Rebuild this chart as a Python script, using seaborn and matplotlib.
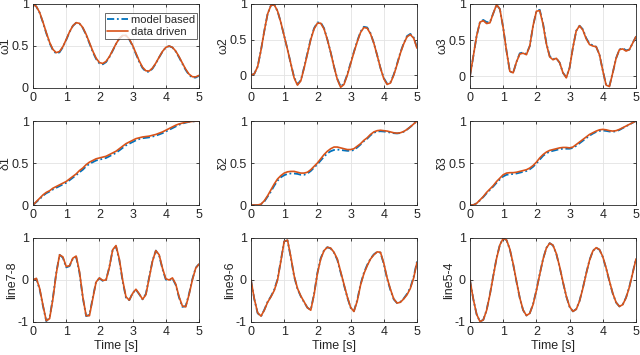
import matplotlib
matplotlib.use('Agg')
import matplotlib.pyplot as plt
import numpy as np
import pandas as pd
import seaborn as sns

# time grid (s)
t = [round(0.1 * i, 1) for i in range(51)]

# --- data driven ---
w1_dd = [1.0, 0.97, 0.9, 0.785, 0.66, 0.544, 0.459, 0.421, 0.435, 0.492,
         0.577, 0.668, 0.741, 0.778, 0.769, 0.72, 0.639, 0.54, 0.44, 0.356,
         0.303, 0.292, 0.316, 0.373, 0.448, 0.526, 0.59, 0.625, 0.627, 0.583,
         0.508, 0.415, 0.322, 0.247, 0.205, 0.202, 0.238, 0.297, 0.368, 0.435,
         0.483, 0.5, 0.484, 0.439, 0.372, 0.296, 0.223, 0.165, 0.134, 0.132,
         0.15]
w2_dd = [0.0, 0.02, 0.12, 0.35, 0.62, 0.86, 0.98, 0.99, 0.9, 0.74,
         0.55, 0.36, 0.16, -0.04, -0.14, -0.08, 0.1, 0.3, 0.5, 0.65,
         0.73, 0.73, 0.65, 0.5, 0.32, 0.12, -0.06, -0.17, -0.13, 0.0,
         0.16, 0.32, 0.47, 0.6, 0.67, 0.66, 0.58, 0.45, 0.28, 0.1,
         -0.05, -0.13, -0.11, 0.0, 0.15, 0.31, 0.44, 0.54, 0.57, 0.52,
         0.38]
w3_dd = [0.0, 0.28, 0.56, 0.75, 0.77, 0.73, 0.74, 0.87, 0.99, 0.93,
         0.67, 0.35, 0.07, 0.05, 0.2, 0.31, 0.32, 0.3, 0.42, 0.7,
         0.9, 0.91, 0.72, 0.45, 0.27, 0.23, 0.25, 0.19, 0.05, -0.02,
         0.12, 0.4, 0.63, 0.7, 0.64, 0.52, 0.44, 0.42, 0.41, 0.3,
         0.08, -0.12, -0.14, 0.05, 0.25, 0.37, 0.38, 0.35, 0.37, 0.46,
         0.55]
d1_dd = [0.0, 0.04, 0.08, 0.12, 0.15, 0.17, 0.2, 0.22, 0.24, 0.26,
         0.28, 0.31, 0.34, 0.37, 0.41, 0.44, 0.48, 0.51, 0.53, 0.55,
         0.56, 0.57, 0.58, 0.6, 0.62, 0.64, 0.67, 0.7, 0.73, 0.75,
         0.77, 0.79, 0.8, 0.81, 0.815, 0.82, 0.83, 0.84, 0.855, 0.87,
         0.89, 0.91, 0.93, 0.95, 0.965, 0.975, 0.985, 0.99, 0.995, 0.998,
         1.0]
d2_dd = [0.0, 0.0, 0.0, 0.01, 0.05, 0.11, 0.18, 0.25, 0.31, 0.35,
         0.38, 0.395, 0.4, 0.4, 0.39, 0.38, 0.38, 0.39, 0.42, 0.46,
         0.5, 0.55, 0.6, 0.64, 0.67, 0.69, 0.69, 0.68, 0.67, 0.66,
         0.66, 0.67, 0.7, 0.73, 0.77, 0.8, 0.84, 0.87, 0.885, 0.89,
         0.885, 0.88, 0.87, 0.86, 0.855, 0.86, 0.875, 0.9, 0.93, 0.965,
         1.0]
d3_dd = [0.0, 0.0, 0.02, 0.06, 0.1, 0.15, 0.19, 0.23, 0.28, 0.32,
         0.36, 0.38, 0.385, 0.385, 0.39, 0.4, 0.41, 0.42, 0.44, 0.47,
         0.51, 0.56, 0.6, 0.63, 0.65, 0.66, 0.67, 0.68, 0.685, 0.685,
         0.68, 0.69, 0.72, 0.75, 0.78, 0.81, 0.84, 0.86, 0.88, 0.895,
         0.9, 0.895, 0.885, 0.88, 0.885, 0.9, 0.92, 0.94, 0.96, 0.98,
         1.0]
l78_dd = [0.0, 0.04, -0.2, -0.6, -0.97, -0.92, -0.45, 0.15, 0.6, 0.55,
          0.32, 0.34, 0.52, 0.57, 0.2, -0.4, -0.85, -0.85, -0.45, -0.05,
          0.05, -0.01, 0.0, 0.3, 0.72, 0.82, 0.5, 0.0, -0.4, -0.48,
          -0.32, -0.22, -0.33, -0.46, -0.35, 0.05, 0.45, 0.7, 0.6, 0.28,
          0.03, 0.0, 0.05, -0.1, -0.4, -0.62, -0.64, -0.35, 0.0, 0.28,
          0.38]
l96_dd = [0.0, -0.45, -0.78, -0.86, -0.72, -0.53, -0.4, -0.25, 0.0, 0.45,
          0.92, 0.95, 0.55, 0.1, -0.2, -0.38, -0.52, -0.66, -0.72, -0.35,
          0.15, 0.5, 0.7, 0.78, 0.76, 0.66, 0.5, 0.2, -0.1, -0.4,
          -0.65, -0.75, -0.5, -0.12, 0.15, 0.34, 0.5, 0.6, 0.67, 0.66,
          0.4, 0.05, -0.22, -0.45, -0.55, -0.53, -0.45, -0.35, -0.2, 0.05,
          0.42]
l54_dd = [0.0, -0.458, -0.815, -0.99, -0.951, -0.723, -0.35, 0.089, 0.513, 0.835,
          0.991, 0.954, 0.736, 0.385, -0.03, -0.424, -0.716, -0.846, -0.795, -0.583,
          -0.252, 0.131, 0.492, 0.759, 0.877, 0.828, 0.628, 0.317, -0.044, -0.384,
          -0.636, -0.747, -0.698, -0.502, -0.197, 0.15, 0.468, 0.69, 0.77, 0.725,
          0.554, 0.286, -0.024, -0.316, -0.532, -0.63, -0.587, -0.425, -0.17, 0.16,
          0.5]

# --- model based ---
w1_mb = [1.0, 0.97, 0.895, 0.78, 0.652, 0.535, 0.45, 0.41, 0.425, 0.486,
         0.572, 0.665, 0.739, 0.776, 0.766, 0.715, 0.632, 0.532, 0.43, 0.346,
         0.293, 0.282, 0.308, 0.367, 0.444, 0.523, 0.588, 0.624, 0.625, 0.578,
         0.5, 0.405, 0.312, 0.237, 0.195, 0.193, 0.231, 0.292, 0.365, 0.433,
         0.482, 0.499, 0.482, 0.434, 0.365, 0.288, 0.214, 0.156, 0.125, 0.124,
         0.145]
w2_mb = [0.0, 0.02, 0.12, 0.35, 0.62, 0.86, 0.98, 0.99, 0.9, 0.74,
         0.55, 0.36, 0.16, -0.03, -0.13, -0.07, 0.11, 0.31, 0.51, 0.66,
         0.74, 0.74, 0.66, 0.5, 0.32, 0.12, -0.05, -0.16, -0.12, 0.01,
         0.17, 0.33, 0.48, 0.61, 0.68, 0.67, 0.59, 0.45, 0.28, 0.1,
         -0.04, -0.12, -0.1, 0.01, 0.16, 0.32, 0.45, 0.55, 0.58, 0.53,
         0.39]
w3_mb = [0.0, 0.28, 0.56, 0.75, 0.78, 0.75, 0.75, 0.87, 0.99, 0.93,
         0.67, 0.35, 0.07, 0.05, 0.2, 0.32, 0.33, 0.31, 0.42, 0.7,
         0.9, 0.92, 0.73, 0.46, 0.28, 0.24, 0.25, 0.19, 0.05, -0.01,
         0.12, 0.4, 0.63, 0.7, 0.65, 0.53, 0.45, 0.43, 0.41, 0.3,
         0.08, -0.12, -0.13, 0.05, 0.25, 0.37, 0.39, 0.36, 0.37, 0.46,
         0.55]
d1_mb = [0.0, 0.035, 0.07, 0.11, 0.14, 0.16, 0.185, 0.205, 0.225, 0.245,
         0.265, 0.295, 0.325, 0.355, 0.39, 0.42, 0.46, 0.49, 0.51, 0.53,
         0.54, 0.55, 0.56, 0.58, 0.6, 0.62, 0.65, 0.68, 0.71, 0.73,
         0.75, 0.77, 0.785, 0.795, 0.8, 0.805, 0.815, 0.825, 0.84, 0.855,
         0.875, 0.895, 0.915, 0.935, 0.955, 0.97, 0.98, 0.99, 0.995, 0.998,
         1.0]
d2_mb = [0.0, 0.0, 0.0, 0.01, 0.04, 0.1, 0.16, 0.23, 0.29, 0.33,
         0.355, 0.37, 0.375, 0.375, 0.37, 0.36, 0.36, 0.375, 0.405, 0.445,
         0.485, 0.53, 0.575, 0.615, 0.64, 0.655, 0.66, 0.655, 0.65, 0.645,
         0.645, 0.655, 0.685, 0.72, 0.76, 0.79, 0.83, 0.86, 0.875, 0.878,
         0.875, 0.87, 0.862, 0.855, 0.852, 0.857, 0.873, 0.898, 0.93, 0.965,
         1.0]
d3_mb = [0.0, 0.0, 0.02, 0.055, 0.095, 0.14, 0.18, 0.22, 0.265, 0.305,
         0.34, 0.36, 0.365, 0.37, 0.375, 0.385, 0.395, 0.405, 0.425, 0.455,
         0.495, 0.54, 0.585, 0.615, 0.635, 0.645, 0.655, 0.665, 0.67, 0.67,
         0.67, 0.68, 0.705, 0.735, 0.765, 0.795, 0.825, 0.85, 0.87, 0.882,
         0.887, 0.882, 0.875, 0.872, 0.878, 0.893, 0.915, 0.937, 0.958, 0.98,
         1.0]
l78_mb = [0.0, 0.03, -0.22, -0.62, -0.98, -0.9, -0.42, 0.17, 0.6, 0.53,
          0.3, 0.33, 0.51, 0.55, 0.17, -0.42, -0.86, -0.83, -0.42, -0.04,
          0.04, -0.02, 0.0, 0.31, 0.72, 0.8, 0.47, -0.03, -0.42, -0.48,
          -0.31, -0.23, -0.34, -0.46, -0.33, 0.07, 0.46, 0.7, 0.58, 0.26,
          0.01, -0.01, 0.04, -0.12, -0.42, -0.64, -0.62, -0.33, 0.02, 0.29,
          0.38]
l96_mb = [0.0, -0.46, -0.79, -0.87, -0.71, -0.52, -0.39, -0.23, 0.02, 0.47,
          0.92, 0.94, 0.53, 0.08, -0.21, -0.39, -0.53, -0.66, -0.71, -0.33,
          0.17, 0.52, 0.71, 0.78, 0.75, 0.65, 0.48, 0.18, -0.12, -0.41,
          -0.66, -0.74, -0.48, -0.1, 0.17, 0.36, 0.51, 0.61, 0.67, 0.65,
          0.38, 0.03, -0.24, -0.46, -0.55, -0.52, -0.44, -0.33, -0.18, 0.08,
          0.44]
l54_mb = [0.0, -0.46, -0.82, -0.99, -0.948, -0.716, -0.34, 0.1, 0.523, 0.84,
          0.99, 0.95, 0.728, 0.375, -0.04, -0.432, -0.72, -0.846, -0.79, -0.574,
          -0.24, 0.142, 0.5, 0.763, 0.877, 0.824, 0.62, 0.307, -0.054, -0.392,
          -0.64, -0.747, -0.693, -0.494, -0.187, 0.16, 0.475, 0.692, 0.768, 0.72,
          0.546, 0.276, -0.034, -0.324, -0.536, -0.63, -0.582, -0.417, -0.16, 0.17,
          0.51]

ylabels = ['\u03c91', '\u03c92', '\u03c93',
           '\u03b41', '\u03b42', '\u03b43',
           'line7-8', 'line9-6', 'line5-4']
dd_series = [w1_dd, w2_dd, w3_dd, d1_dd, d2_dd, d3_dd, l78_dd, l96_dd, l54_dd]
mb_series = [w1_mb, w2_mb, w3_mb, d1_mb, d2_mb, d3_mb, l78_mb, l96_mb, l54_mb]
ylims = [(0, 1), (-0.18, 1), (-0.16, 1),
         (0, 1), (0, 1), (0, 1),
         (-1, 1), (-1, 1), (-1, 1)]

sns.set_theme(style='ticks')
plt.rcParams['font.family'] = ['Liberation Sans', 'DejaVu Sans']
plt.rcParams['axes.unicode_minus'] = False

BLUE = '#0072BD'
ORANGE = '#D95319'
EDGE = '#262626'

W, H = 640, 355
col_left = [33, 251, 470]
col_w = 166
row_top = [4, 121, 238]
row_h = 84

fig = plt.figure(figsize=(6.4, 3.55), dpi=100)

for i in range(9):
    r, c = divmod(i, 3)
    ax = fig.add_axes([col_left[c] / W, 1 - (row_top[r] + row_h) / H,
                       col_w / W, row_h / H])
    sns.lineplot(x=t, y=mb_series[i], ax=ax, color=BLUE, linewidth=1.3,
                 linestyle=(0, (4, 1.5, 1, 1.5)), label='model based')
    sns.lineplot(x=t, y=dd_series[i], ax=ax, color=ORANGE, linewidth=1.2,
                 label='data driven')

    ax.set_xlim(0, 5)
    ax.set_ylim(*ylims[i])
    ax.set_xticks([0, 1, 2, 3, 4, 5])
    ax.set_xticklabels(['0', '1', '2', '3', '4', '5'])
    if r < 2:
        ax.set_yticks([0, 0.5, 1])
        ax.set_yticklabels(['0', '0.5', '1'])
    else:
        ax.set_yticks([-1, 0, 1])
        ax.set_yticklabels(['-1', '0', '1'])

    ax.grid(True, color='#e3e3e3', linewidth=0.6)
    ax.set_axisbelow(True)
    for sp in ax.spines.values():
        sp.set_visible(True)
        sp.set_color(EDGE)
        sp.set_linewidth(0.6)
    ax.tick_params(direction='in', length=2.5, width=0.6, colors=EDGE,
                   labelsize=9, pad=3, top=True, right=True)
    ax.set_ylabel(ylabels[i], fontsize=9, color=EDGE, labelpad=0)
    if r == 2:
        ax.set_xlabel('Time [s]', fontsize=9, color=EDGE, labelpad=1)
    else:
        ax.set_xlabel('')

    if i == 0:
        leg = ax.legend(loc='upper right', bbox_to_anchor=(0.988, 0.893),
                        fontsize=8, frameon=True, fancybox=False,
                        handlelength=1.9, handletextpad=0.2,
                        borderpad=0.2, labelspacing=0.15,
                        borderaxespad=0.0)
        leg.get_frame().set_edgecolor(EDGE)
        leg.get_frame().set_linewidth(0.6)
    else:
        ax.get_legend().remove()

fig.savefig('out.png', dpi=100)
